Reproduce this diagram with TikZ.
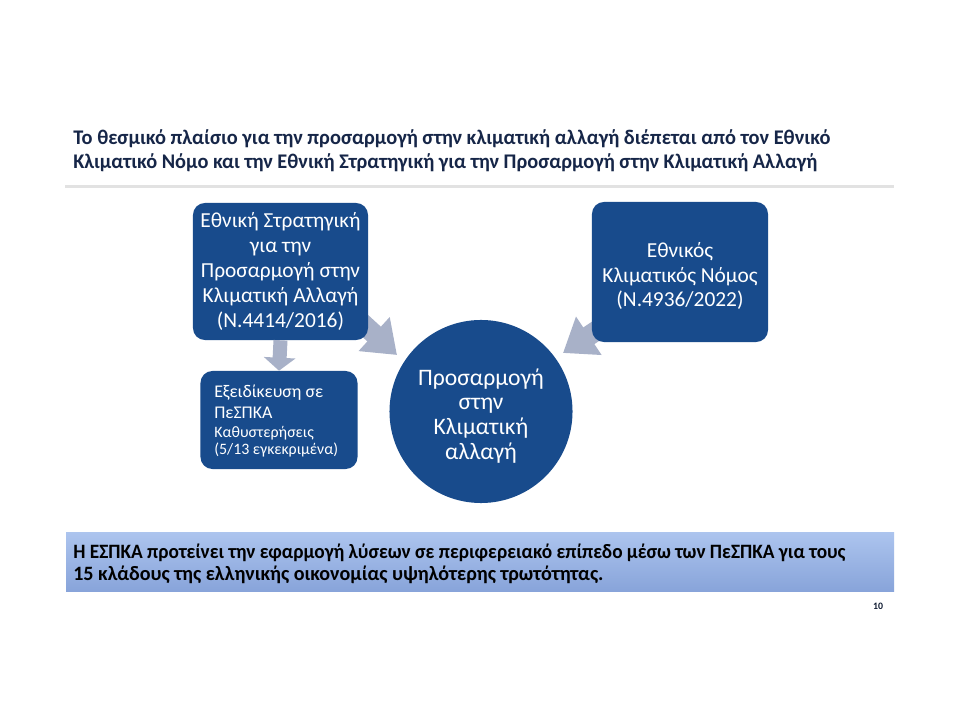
\documentclass[tikz,border=0pt]{standalone}
\usepackage{fontspec}
\usepackage{graphicx}
\setmainfont{Carlito}
\usetikzlibrary{arrows.meta}
\definecolor{boxblue}{RGB}{24,75,140}
\definecolor{arrgray}{RGB}{168,177,200}
\definecolor{titlecol}{RGB}{22,38,72}
\definecolor{rulegray}{RGB}{226,226,226}
\definecolor{bantop}{RGB}{172,196,238}
\definecolor{banbot}{RGB}{136,164,218}
\tikzset{
  bluebox/.style={fill=boxblue, rounded corners=0.3cm, text=white, align=center, inner sep=0pt,
    font=\fontsize{15.2pt}{17.7pt}\selectfont},
  garrow/.style={draw=arrgray, line width=0.5cm, -{Triangle[length=0.775cm,width=1.1cm]}},
  garrowdown/.style={draw=arrgray, line width=0.35cm, -{Triangle[length=0.325cm,width=0.775cm]}},
  titletext/.style={anchor=base west, inner sep=0pt, text=titlecol, font=\fontsize{14.8pt}{17.7pt}\selectfont\bfseries},
  bantext/.style={anchor=base west, inner sep=0pt, text=black, font=\fontsize{14.5pt}{17.7pt}\selectfont\bfseries},
  smalltext/.style={anchor=base west, inner sep=0pt, text=white}
}
\begin{document}
\begin{tikzpicture}[x=0.025cm,y=-0.025cm]
\useasboundingbox (0,0) rectangle (960,720);
\fill[white] (0,0) rectangle (960,720);
% title
\node[titletext] (t1) at (73,145) {\resizebox{18.925cm}{\height}{Το θεσμικό πλαίσιο για την προσαρμογή στην κλιματική αλλαγή διέπεται από τον Εθνικό}};
\node[titletext] (t2) at (73,169) {\resizebox{18.6cm}{\height}{Κλιματικό Νόμο και την Εθνική Στρατηγική για την Προσαρμογή στην Κλιματική Αλλαγή}};
\fill[rulegray] (65,185.5) rectangle (894,188.5);
% arrow anchors
\coordinate (a1s) at (338,301);
\coordinate (a1t) at (397,355);
\coordinate (a2s) at (629,309);
\coordinate (a2t) at (563,353);
\draw[garrow] (a1s) -- (a1t);
\draw[garrow] (a2s) -- (a2t);
% boxes
\node[bluebox, minimum width=4.375cm, minimum height=3.425cm] (b1) at (280.5,271.5)
  {Εθνική Στρατηγική\\για την\\Προσαρμογή στην\\Κλιματική Αλλαγή\\(Ν.4414/2016)};
\node[bluebox, minimum width=3.925cm, minimum height=2.45cm] (b2) at (279,420) {};
\node[smalltext, font=\fontsize{12.7pt}{14pt}\selectfont] (b2a) at (214,398) {Εξειδίκευση σε};
\node[smalltext, font=\fontsize{12.7pt}{14pt}\selectfont] (b2b) at (214,419) {ΠεΣΠΚΑ};
\node[smalltext, font=\fontsize{11.3pt}{13pt}\selectfont] (b2c) at (214,438) {Καθυστερήσεις};
\node[smalltext, font=\fontsize{11.3pt}{13pt}\selectfont] (b2d) at (214,455) {(5/13 εγκεκριμένα)};
\draw[garrowdown] (b1.south) -- (b2.north);
\node[bluebox, minimum width=4.4cm, minimum height=3.5cm] (b3) at (680,272) {};
\node[text=white, align=center, inner sep=0pt, font=\fontsize{15.2pt}{17.7pt}\selectfont] (b3t) at (680,276)
  {Εθνικός\\Κλιματικός Νόμος\\(Ν.4936/2022)};
\node[circle, fill=boxblue, minimum size=4.575cm, inner sep=0pt] (circ) at (481,411.5) {};
\node[text=white, align=center, inner sep=0pt, font=\fontsize{16.8pt}{17.7pt}\selectfont] (c) at (481,416)
  {Προσαρμογή\\στην\\Κλιματική\\αλλαγή};
% banner
\shade[top color=bantop, bottom color=banbot] (66,533) rectangle (894,591);
\node[bantext] (l1) at (73,558) {\resizebox{19.3cm}{\height}{Η ΕΣΠΚΑ προτείνει την εφαρμογή λύσεων σε περιφερειακό επίπεδο μέσω των ΠεΣΠΚΑ για τους}};
\node[bantext] (l2) at (73,580) {\resizebox{13.25cm}{\height}{15 κλάδους της ελληνικής οικονομίας υψηλότερης τρωτότητας.}};
\node[anchor=base, inner sep=0pt, font=\fontsize{7pt}{8pt}\selectfont\bfseries, text=titlecol!70!black] (pn) at (878,609) {10};
\end{tikzpicture}
\end{document}
